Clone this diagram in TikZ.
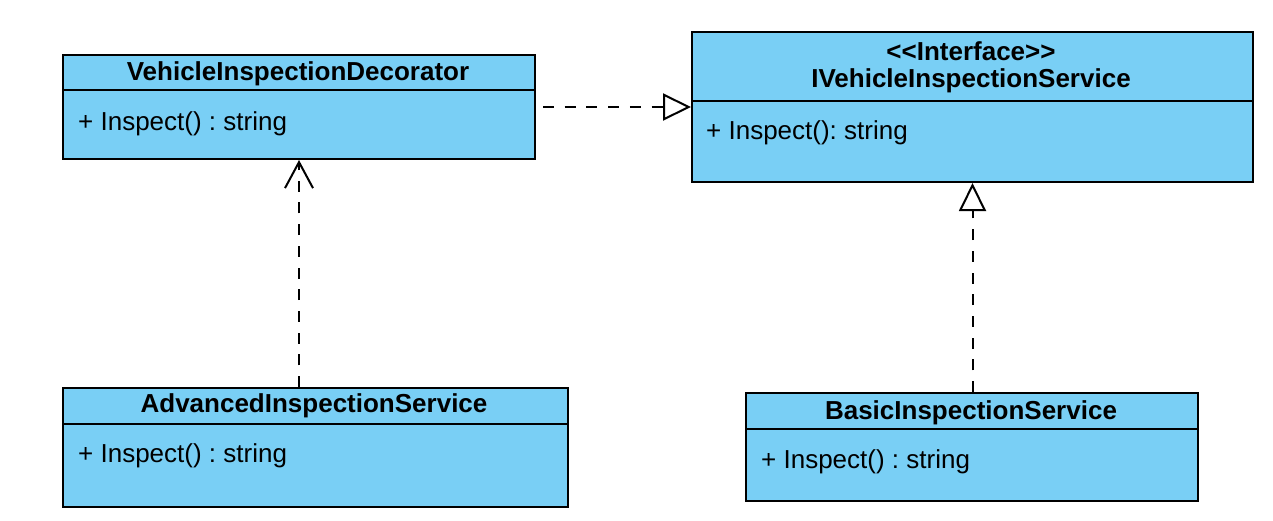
\documentclass[tikz,border=0pt]{standalone}
\usepackage{fontspec}
\setmainfont{Liberation Sans}
\usetikzlibrary{arrows.meta}
\definecolor{umlblue}{RGB}{121,207,245}
\frenchspacing
\begin{document}
\begin{tikzpicture}[x=1pt,y=-1pt,
  umlbox/.style={draw=black, fill=umlblue, line width=2pt, anchor=north west, inner sep=0pt, rectangle},
  divider/.style={draw=black, line width=2pt},
  ttl/.style={font=\fontsize{26}{30}\selectfont\bfseries, inner sep=0pt, anchor=center},
  attr/.style={font=\fontsize{26}{30}\selectfont, inner sep=0pt, anchor=west},
  dep/.style={line width=2pt, dash pattern=on 11pt off 10.7pt},
  realize/.style={dep, -{Triangle[open, length=28pt, width=27pt, line width=2pt]}},
  use/.style={dep, -{Straight Barb[length=26pt, width=28pt, line width=2pt]}}
]
\useasboundingbox (0,0) rectangle (1273,520);
% boxes
\node[umlbox, minimum width=472pt, minimum height=104pt] (dec) at (62,54) {};
\node[umlbox, minimum width=561pt, minimum height=150pt] (iface) at (691,31) {};
\node[umlbox, minimum width=505pt, minimum height=119pt] (adv) at (62,387) {};
\node[umlbox, minimum width=452pt, minimum height=108pt] (basic) at (745,392) {};
% dividers
\draw[divider] (62,90) -- (534,90);
\draw[divider] (691,101) -- (1252,101);
\draw[divider] (62,424) -- (567,424);
\draw[divider] (745,429) -- (1197,429);
% texts
\node[ttl] (dect) at (298,74) {VehicleInspectionDecorator};
\node[attr] (deca) at (78,124) {+ Inspect() : string};
\node[ttl] (ifs) at (971,51) {<{}<Interface>{}>};
\node[ttl] (ifn) at (971,81) {IVehicleInspectionService};
\node[attr] (ifa) at (706,133) {+ Inspect(): string};
\node[ttl] (advt) at (314,406) {AdvancedInspectionService};
\node[attr] (adva) at (78,456) {+ Inspect() : string};
\node[ttl] (bast) at (971,413) {BasicInspectionService};
\node[attr] (basa) at (761,462) {+ Inspect() : string};
% connectors
\draw[realize] (dec.east) ++(7,0) coordinate (decE) -- (iface.west);
\draw[use] (adv.north -| dec.south) -- (dec.south);
\draw[realize] (basic.north -| iface.south) -- (iface.south);
\end{tikzpicture}
\end{document}
